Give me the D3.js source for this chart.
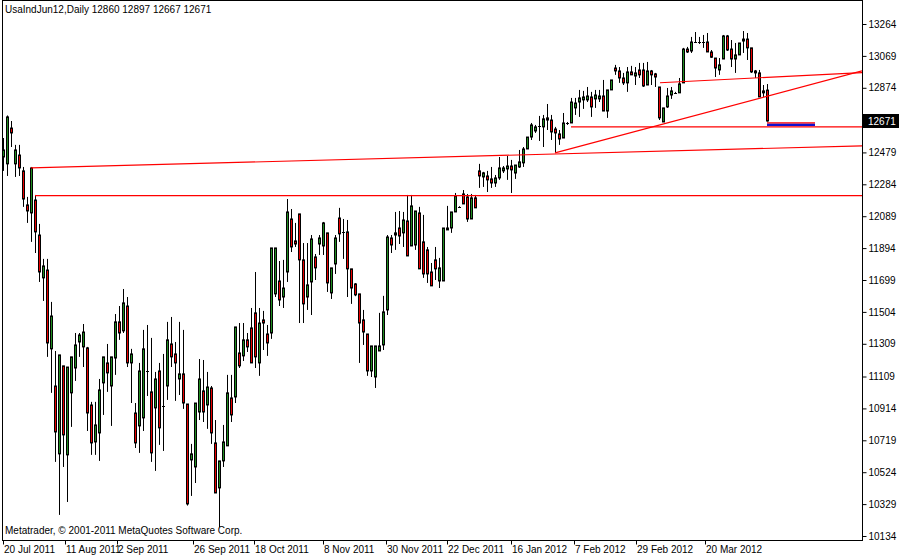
<!DOCTYPE html>
<html>
<head>
<meta charset="utf-8">
<script src="https://cdn.jsdelivr.net/npm/d3@7"></script>
<style>
  body { margin: 0; background: #fff; }
  svg text { font-family: "Liberation Sans", Arial, sans-serif; font-size: 10px; fill: #000; }
</style>
</head>
<body>
<div id="chart"></div>
<script>
// daily bars: [open, high, low, close]
const ohlc = [
[12451,12567,12366,12494],[12409,12705,12335,12696],[12628,12671,12512,12598],[12409,12525,12329,12494],
[12463,12525,12335,12384],[12366,12390,12146,12194],[12158,12207,12048,12121],[12109,12390,11932,12384],
[12188,12219,11864,11993],[11974,12042,11687,11748],[11712,11828,11571,11785],[11760,11828,11229,11314],
[11278,11565,11009,11479],[11051,11265,10587,10770],[10636,11241,10263,11241],[11174,11174,10556,10752],
[10630,11167,10342,11167],[11009,11229,10801,11229],[11161,11375,11082,11302],[11320,11375,11229,11363],
[11290,11430,11167,11381],[11284,11290,10776,10886],[10935,10954,10630,10703],[10709,10954,10630,10813],
[10764,11094,10593,11027],[11070,11229,10874,11229],[11192,11308,11015,11131],[11051,11229,10807,11229],
[11222,11491,11119,11443],[11443,11540,11333,11375],[11388,11644,11375,11559],[11540,11595,11167,11192],
[11192,11278,10947,11247],[10886,10947,10672,10703],[10807,11192,10642,11143],[10856,11394,10776,11278],
[11143,11424,10990,11140],[11015,11345,10587,10642],[10917,11137,10532,11094],[11143,11192,10691,10795],
[10929,11247,10654,10925],[11051,11443,10966,11333],[11308,11473,11167,11229],[11247,11320,10960,11192],
[11094,11443,10996,11125],[11125,11394,10911,10947],[10941,10941,10320,10330],[10599,10697,10379,10636],
[10556,10947,10458,10947],[10892,11216,10843,11094],[11021,11210,10831,10892],[10935,11137,10789,11045],
[11039,11051,10697,10764],[10703,10843,10397,10397],[10428,10593,10189,10593],[10593,10813,10556,10709],
[10685,11119,10685,11009],[10978,11119,10831,10874],[10984,11412,10947,11412],[11253,11436,11161,11174],
[11235,11436,11204,11333],[11333,11375,11259,11290],[11406,11528,11192,11192],[11498,11748,11161,11229],
[11192,11528,11113,11436],[11455,11510,11271,11436],[11369,11424,11235,11314],[11375,11895,11339,11895],
[11614,11895,11595,11895],[11693,11815,11540,11577],[11595,11822,11528,11650],[11748,12194,11687,12115],
[12072,12133,11870,11901],[11938,12048,11901,11919],[12103,12103,11436,11822],[11822,11925,11436,11553],
[11595,11925,11516,11669],[11687,11974,11485,11950],[11840,11858,11699,11773],[11919,11974,11852,11956],
[11907,12054,11852,12048],[11987,11987,11626,11681],[11620,11773,11583,11773],[11797,11974,11736,11956],
[12078,12140,11932,11981],[11993,12072,11828,11990],[11993,12066,11595,11767],[11767,11767,11553,11650],
[11675,11680,11600,11608],[11614,11614,11192,11436],[11455,11516,11302,11381],[11369,11369,11113,11143],
[11143,11296,11106,11296],[11106,11296,11039,11296],[11265,11498,11265,11296],[11302,11602,11271,11504],
[11516,11974,11485,11962],[11956,11974,11864,11913],[11974,12115,11883,11987],[12017,12121,11919,11968],
[11987,12115,11901,12066],[12060,12219,11846,11846],[11907,12219,11907,12152],[11913,12121,11883,12121],
[12109,12146,11767,11767],[11932,12097,11712,11736],[11883,11901,11681,11736],[11748,11803,11663,11663],
[11822,11901,11699,11767],[11693,11834,11650,11773],[11693,12017,11693,12017],[12005,12152,12005,12017],
[12017,12115,11987,12115],[12115,12231,12115,12213],[12146,12150,12140,12146],[12225,12249,12164,12164],
[12207,12225,12054,12072],[12072,12225,12072,12201],[12201,12219,12140,12140],[12366,12409,12262,12335],
[12329,12360,12268,12354],[12335,12366,12237,12311],[12317,12390,12262,12292],[12292,12341,12268,12323],
[12323,12451,12311,12384],[12366,12396,12353,12384],[12378,12457,12311,12396],[12396,12433,12231,12372],
[12353,12402,12317,12402],[12390,12494,12384,12421],[12415,12512,12390,12500],[12500,12573,12500,12573],
[12573,12659,12555,12647],[12610,12647,12598,12635],[12635,12702,12549,12641],[12635,12708,12512,12684],
[12690,12775,12616,12677],[12677,12708,12555,12604],[12622,12635,12476,12598],[12592,12616,12525,12561],
[12567,12720,12567,12659],[12653,12665,12647,12659],[12659,12812,12659,12787],[12751,12812,12708,12781],
[12787,12861,12696,12812],[12800,12855,12745,12818],[12800,12879,12787,12824],[12818,12849,12696,12757],
[12806,12861,12751,12830],[12806,12861,12787,12824],[12824,12922,12732,12732],[12732,12861,12690,12861],
[12861,12922,12861,12922],[12995,13014,12953,12977],[12977,13001,12904,12934],[12934,12965,12891,12904],
[12904,13001,12849,12971],[12971,13008,12953,12953],[12946,13001,12891,12965],[12983,13026,12934,12953],
[12983,13026,12879,12885],[12891,13032,12891,12977],[12977,12983,12891,12953],[12959,12965,12879,12940],
[12879,12879,12677,12690],[12665,12751,12665,12751],[12757,12873,12751,12824],[12830,12879,12806,12855],
[12843,12849,12837,12843],[12843,12934,12843,12898],[12904,13118,12904,13111],[13111,13124,13087,13093],
[13099,13185,13087,13154],[13154,13215,13148,13152],[13148,13185,13142,13154],[13154,13197,13118,13152],
[13154,13209,13093,13093],[13093,13105,13056,13061],[13056,13056,12940,12995],[12983,13056,12953,13014],
[13050,13197,13050,13191],[13191,13197,13099,13105],[13111,13166,13001,13050],[13050,13148,12965,13075],
[13075,13148,13075,13148],[13172,13221,13087,13160],[13172,13209,13044,13118],[13118,13118,12965,12971],
[12977,12983,12934,12965],[12965,12983,12818,12818],[12855,12891,12818,12843],[12860,12897,12667,12671]
];

const priceTicks = [13264,13069,12874,12479,12284,12089,11894,11699,11504,11309,11109,10914,10719,10524,10329,10134];
const dateLabels = ['20 Jul 2011','11 Aug 2011','2 Sep 2011','26 Sep 2011','18 Oct 2011','8 Nov 2011',
                    '30 Nov 2011','22 Dec 2011','16 Jan 2012','7 Feb 2012','29 Feb 2012','20 Mar 2012'];
const dateIndex = [0,15.5,28.5,47.5,62.75,80,95.75,111,127,142.75,158.25,175.5];

// trend lines drawn on the chart: [bar1, price1, bar2, price2]
const trendLines = [
  [7, 12384, 214.75, 12519],
  [8, 12215, 214.75, 12215],
  [142, 12635, 214.75, 12635],
  [138, 12476, 214.75, 12977],
  [164.25, 12905, 214.75, 12967]
];
const lastPrice = 12671;
const askLine = [191, 203, 12660];
const bidLine = [191, 203, 12648];

const W = 899, H = 556;
const plot = {left: 2, right: 862, top: 0, bottom: 540};

const svg = d3.select('#chart').append('svg')
.attr('width', W)
.attr('height', H)

const x = d3.scaleLinear().domain([0, 214.75]).range([3, 862])
const y = d3.scaleLinear().domain([10134, 13264]).range([536, 24])

// frame
svg.append('rect')
.attr('x', plot.left + 0.5).attr('y', plot.top + 0.5)
.attr('width', plot.right - plot.left).attr('height', plot.bottom - plot.top)
.attr('fill', 'none').attr('stroke', '#000')

// right price axis
const yaxis = svg.append('g')
.attr('transform', `translate(${plot.right + 0.5},0)`)
.call(d3.axisRight(y).tickValues(priceTicks).tickSize(4).tickFormat(d3.format('d')))
yaxis.select('.domain').remove()
yaxis.selectAll('text').attr('x', 6).style('font-size', '10px')

// bottom date axis
const xaxis = svg.append('g')
.attr('transform', `translate(0,${plot.bottom + 0.5})`)
xaxis.selectAll('line').data(dateIndex).join('line')
.attr('x1', d => Math.round(x(d)) + 0.5).attr('x2', d => Math.round(x(d)) + 0.5)
.attr('y1', 0).attr('y2', 4).attr('stroke', '#000')
xaxis.selectAll('text').data(dateLabels).join('text')
.attr('x', (d, i) => Math.round(x(dateIndex[i])) + 1)
.attr('y', 12)
.text(d => d)

// candles
const clip = svg.append('clipPath').attr('id', 'clip').append('rect')
.attr('x', plot.left + 1).attr('y', 1).attr('width', plot.right - plot.left - 1).attr('height', plot.bottom - 1)
const candles = svg.append('g').attr('clip-path', 'url(#clip)')

const lines = svg.append('g').attr('clip-path', 'url(#clip)')
trendLines.forEach(t => {
  const slope = (t[3] - t[1]) / (t[2] - t[0])
  lines.append('line')
  .attr('x1', x(t[0])).attr('y1', y(t[1]))
  .attr('x2', x(214.75)).attr('y2', y(t[1] + slope * (214.75 - t[0])))
  .attr('stroke', '#ff0000').attr('stroke-width', 1.2)
})

ohlc.forEach((d, i) => {
  const cx = Math.round(x(i)) + 0.5
  candles.append('line')
  .attr('x1', cx).attr('x2', cx)
  .attr('y1', y(d[1])).attr('y2', y(d[2]))
  .attr('stroke', '#000')
  const top = y(Math.max(d[0], d[3])), bot = y(Math.min(d[0], d[3]))
  if (bot - top < 1.5) {
    candles.append('line')
    .attr('x1', cx - 1.5).attr('x2', cx + 1.5)
    .attr('y1', Math.round(top) + 0.5).attr('y2', Math.round(top) + 0.5)
    .attr('stroke', '#000')
  } else {
    candles.append('rect')
    .attr('x', cx - 1).attr('width', 2)
    .attr('y', top).attr('height', bot - top)
    .attr('fill', d[3] >= d[0] ? '#1f8c1f' : '#e80000')
    .attr('stroke', '#000').attr('stroke-width', 1)
  }
})

// bid / ask lines
svg.append('line')
.attr('x1', x(bidLine[0])).attr('x2', x(bidLine[1]))
.attr('y1', y(bidLine[2])).attr('y2', y(bidLine[2]))
.attr('stroke', '#1010d0').attr('stroke-width', 2.5)
svg.append('line')
.attr('x1', x(askLine[0])).attr('x2', x(askLine[1]))
.attr('y1', y(askLine[2])).attr('y2', y(askLine[2]))
.attr('stroke', '#ff0000').attr('stroke-width', 1.2)

// last price marker
svg.append('rect')
.attr('x', plot.right + 1).attr('y', y(lastPrice) - 7)
.attr('width', 36).attr('height', 14)
.attr('fill', '#000')
svg.append('text')
.attr('x', plot.right + 6).attr('y', y(lastPrice) + 4)
.style('fill', '#fff')
.text(lastPrice)

// titles
svg.append('text').attr('x', 5).attr('y', 13)
.text(`UsaIndJun12,Daily  ${ohlc[ohlc.length - 1].join(' ')}`)
svg.append('text').attr('x', 5).attr('y', 534)
.text('Metatrader, © 2001-2011 MetaQuotes Software Corp.')
</script>
</body>
</html>
